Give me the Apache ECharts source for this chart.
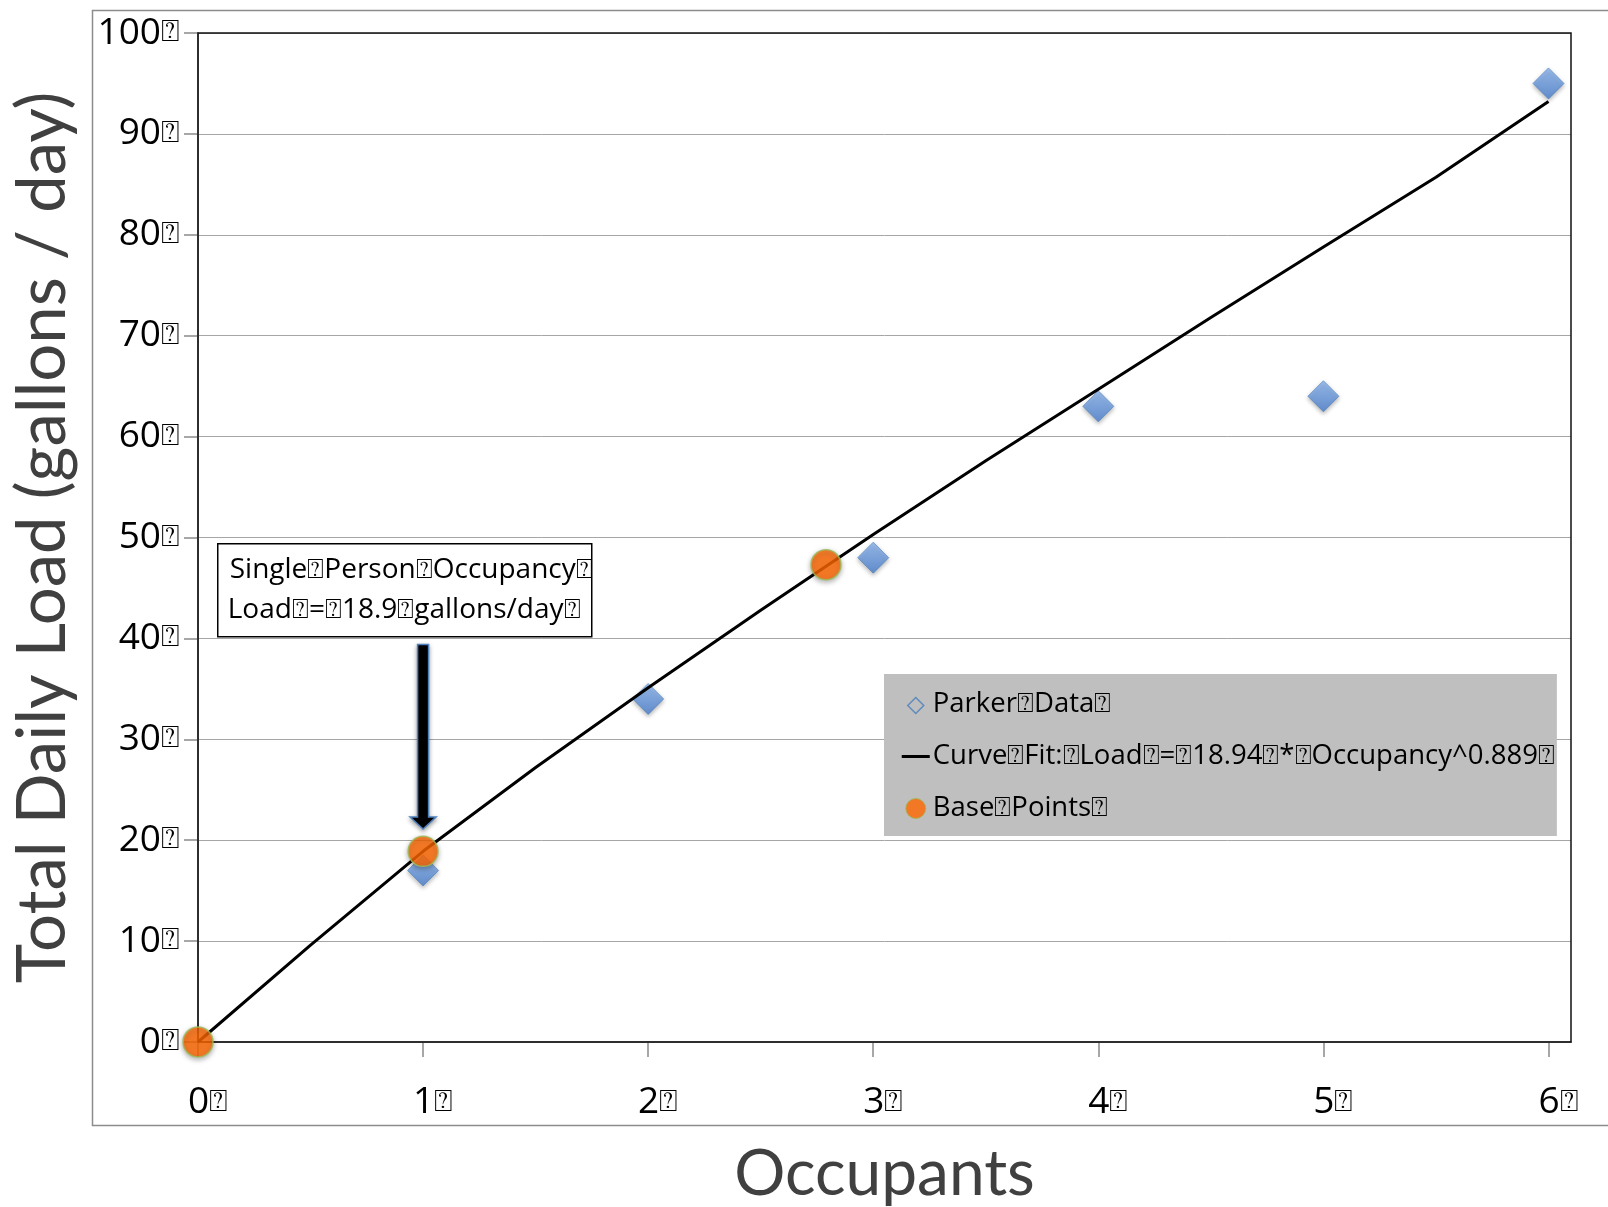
<!DOCTYPE html>
<html><head><meta charset="utf-8">
<script src="https://cdn.jsdelivr.net/npm/echarts@6/dist/echarts.min.js"></script>
<style>html,body{margin:0;padding:0;background:#fff}#c{width:1608px;height:1207px}</style>
</head><body><div id="c"></div>
<script>
const BOX = '\u2370';
const xTicks = [0, 1, 2, 3, 4, 5, 6];
const yTicks = [0, 10, 20, 30, 40, 50, 60, 70, 80, 90, 100];
const parkerX = [1, 2, 3, 4, 5, 6];
const parkerY = [17, 34, 48, 63, 64, 95];
const baseX = [0, 1, 2.79];
const baseY = [0, 18.9, 47.3];
const curveX = [0, 0.5, 1, 1.5, 2, 2.5, 3, 3.5, 4, 4.5, 5, 5.5, 6];
const curveY = [0, 9.6, 18.9, 27.2, 35.1, 42.8, 50.3, 57.6, 64.7, 71.8, 78.8, 85.7, 93.2];
const seriesNames = ['Parker' + BOX + 'Data' + BOX,
  'Curve' + BOX + 'Fit:' + BOX + 'Load' + BOX + '=' + BOX + '18.94' + BOX + '*' + BOX + 'Occupancy^0.889' + BOX,
  'Base' + BOX + 'Points' + BOX];
const noteLines = ['Single' + BOX + 'Person' + BOX + 'Occupancy' + BOX,
  'Load' + BOX + '=' + BOX + '18.9' + BOX + 'gallons/day' + BOX];
const arrowFrom = [1, 39.4];
const arrowTo = [1, 21.1];

const zip = (xs, ys) => xs.map((x, i) => [x, ys[i]]);
const chart = echarts.init(document.getElementById('c'));
const labelRich = {
  n: {fontSize: 37, fontFamily: 'Open Sans', color: '#000'},
  b: {fontSize: 31, fontFamily: 'DejaVu Sans', color: '#000'}
};
chart.setOption({
  animation: false,
  backgroundColor: '#fff',
  grid: {left: 198, right: 37, top: 33, bottom: 165, outerBoundsMode: 'none', containLabel: false,
    show: true, borderColor: '#111', borderWidth: 1.5, backgroundColor: 'transparent', z: 1},
  xAxis: {
    type: 'value', min: 0, max: 6.1, interval: 1,
    name: 'Occupants', nameLocation: 'middle', nameGap: 100,
    nameTextStyle: {fontSize: 64, fontFamily: 'Lato', color: '#404040'},
    axisLine: {show: true, onZero: false, lineStyle: {color: '#8a8a8a', width: 2}},
    axisTick: {show: true, inside: false, length: 15, customValues: xTicks, lineStyle: {color: '#8a8a8a', width: 1.5}},
    axisLabel: {margin: 42, customValues: xTicks, formatter: v => '{n|' + v + '}{b|' + BOX + '}', rich: labelRich, padding: [0, 0, 0, 20]},
    splitLine: {show: false}
  },
  yAxis: {
    type: 'value', min: 0, max: 100, interval: 10,
    name: 'Total Daily Load (gallons / day)', nameLocation: 'middle', nameGap: 121,
    nameTextStyle: {fontSize: 67, fontFamily: 'Lato', color: '#404040'},
    axisLine: {show: true, onZero: false, lineStyle: {color: '#8a8a8a', width: 2}},
    axisTick: {show: true, inside: false, length: 14, lineStyle: {color: '#8a8a8a', width: 1.5}},
    axisLabel: {margin: 18, formatter: v => '{n|' + v + '}{b|' + BOX + '}', rich: labelRich},
    splitLine: {show: true, lineStyle: {color: '#a6a6a6', width: 1}}
  },
  legend: {
    orient: 'vertical', left: 884, top: 674,
    backgroundColor: '#bfbfbf', borderWidth: 0,
    padding: [15, 2, 12, 17],
    itemGap: 21, itemWidth: 28, itemHeight: 20,
    textStyle: {fontSize: 27.5, fontFamily: 'Open Sans', color: '#000', lineHeight: 31, padding: [0, 0, 0, -2]},
    data: [
      {name: seriesNames[0], icon: 'path://M0,0M14,3L22,11L14,19L6,11Z M28,20', itemStyle: {color: 'transparent', borderColor: '#4a7ebb', borderWidth: 1.5}},
      {name: seriesNames[1], icon: 'path://M0,0M0,8.5H28V11.5H0Z M28,20', itemStyle: {color: '#000', borderWidth: 0}},
      {name: seriesNames[2], icon: 'circle', itemStyle: {color: '#ff6600', borderColor: '#9bbb59', borderWidth: 1}}
    ]
  },
  graphic: [
    {type: 'rect', left: 90, top: 8, z: -10, silent: true,
      shape: {width: 1540, height: 1115}, style: {fill: 'none', stroke: '#8c8c8c', lineWidth: 1.5}},
    {type: 'group', left: 217, top: 543, z: 100, children: [
      {type: 'rect', shape: {x: 0, y: 0, width: 374, height: 93},
        style: {fill: '#fff', stroke: '#000', lineWidth: 1.5}},
      {type: 'text', x: 12, y: 12, style: {text: noteLines[0], font: '28px "Open Sans"', fill: '#000'}},
      {type: 'text', x: 10, y: 52, style: {text: noteLines[1], font: '28px "Open Sans"', fill: '#000'}}
    ]}
  ],
  series: [
    {
      name: seriesNames[0], type: 'scatter', z: 2,
      data: zip(parkerX, parkerY),
      symbol: 'diamond', symbolSize: 31,
      itemStyle: {
        color: new echarts.graphic.LinearGradient(0, 0, 0, 1, [
          {offset: 0, color: '#8ab5f0'}, {offset: 1, color: '#4a80d0'}]),
        borderColor: '#4a7ebb', borderWidth: 0.8,
        shadowBlur: 4, shadowOffsetY: 2, shadowColor: 'rgba(0,0,0,0.35)'
      },
      emphasis: {disabled: true}
    },
    {
      name: seriesNames[1], type: 'line', z: 3,
      data: zip(curveX, curveY),
      symbol: 'none', showSymbol: false, smooth: false,
      lineStyle: {color: '#000', width: 3},
      itemStyle: {color: '#000'},
      emphasis: {disabled: true}
    },
    {
      name: seriesNames[2], type: 'scatter', z: 4,
      data: zip(baseX, baseY),
      symbol: 'circle', symbolSize: 30,
      itemStyle: {
        color: '#ff6600', borderColor: '#9bbb59', borderWidth: 1.5,
        shadowBlur: 5, shadowOffsetY: 2, shadowColor: 'rgba(0,0,0,0.35)'
      },
      emphasis: {disabled: true}
    }
  ]
});

// Annotation arrow, anchored to data coordinates through the grid's scales
const p0 = chart.convertToPixel({gridIndex: 0}, arrowFrom);
const p1 = chart.convertToPixel({gridIndex: 0}, arrowTo);
const cx = p0[0], yTop = p0[1], yTip = p1[1], headLen = 12, shaftHalf = 5.5, headHalf = 13;
chart.setOption({
  graphic: [
    {type: 'rect', left: 90, top: 8, z: -10, silent: true,
      shape: {width: 1540, height: 1115}, style: {fill: 'none', stroke: '#8c8c8c', lineWidth: 1.5}},
    {type: 'group', left: 217, top: 543, z: 100, children: [
      {type: 'rect', shape: {x: 0, y: 0, width: 374, height: 93},
        style: {fill: '#fff', stroke: '#000', lineWidth: 1.5}},
      {type: 'text', x: 12, y: 12, style: {text: noteLines[0], font: '28px "Open Sans"', fill: '#000'}},
      {type: 'text', x: 10, y: 52, style: {text: noteLines[1], font: '28px "Open Sans"', fill: '#000'}}
    ]},
    {type: 'polygon', z: 100, silent: true,
      shape: {points: [
        [cx - shaftHalf, yTop], [cx + shaftHalf, yTop], [cx + shaftHalf, yTip - headLen],
        [cx + headHalf, yTip - headLen], [cx, yTip], [cx - headHalf, yTip - headLen],
        [cx - shaftHalf, yTip - headLen]]},
      style: {fill: '#000', stroke: '#4f81bd', lineWidth: 1.5,
        shadowBlur: 4, shadowOffsetY: 2, shadowColor: 'rgba(0,0,0,0.35)'}}
  ]
}, {replaceMerge: ['graphic']});
</script></body></html>
